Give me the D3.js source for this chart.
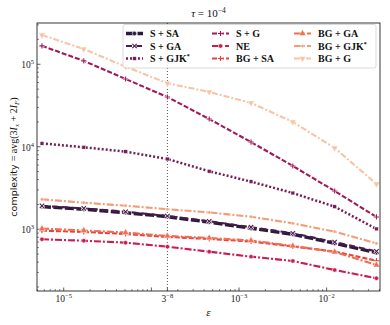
<!DOCTYPE html>
<html>
<head>
<meta charset="utf-8">
<script src="https://cdn.jsdelivr.net/npm/d3@7"></script>
<style>
  body { margin: 0; background: #fff; }
  svg { display: block; }
  .math { font-family: "Liberation Serif", "DejaVu Serif", serif; }
</style>
</head>
<body>
<div id="container"></div>
<script>
const margin = { top: 23, right: 10, bottom: 34, left: 37 };
const width = 390 - margin.left - margin.right;
const height = 325 - margin.top - margin.bottom;

// epsilon values (3^-11 ... 3^-3)
const eps = [5.645e-6, 1.694e-5, 5.081e-5, 1.524e-4, 4.572e-4, 1.372e-3, 4.115e-3, 1.235e-2, 3.704e-2];

const sSA    = [1880, 1750, 1590, 1420, 1220, 1030, 870, 676, 520];
const sGA    = [1920, 1790, 1630, 1450, 1250, 1060, 895, 700, 540];
const sGJK   = [11000, 9860, 8730, 7110, 5050, 3780, 2750, 1880, 1010];
const sG     = [167000, 110000, 66300, 40100, 21700, 11400, 5850, 2910, 1410];
const ne     = [756, 727, 688, 615, 535, 466, 413, 321, 255];
const bgSA   = [962, 928, 877, 807, 763, 711, 619, 538, 416];
const bgGA   = [1020, 967, 914, 830, 785, 731, 628, 531, 369];
const bgGJK  = [2310, 2100, 1930, 1750, 1600, 1420, 1180, 935, 676];
const bgG    = [226000, 153000, 93500, 58900, 46200, 34000, 20000, 9670, 3540];

const seriesNames = ["S + SA", "S + GA", "S + GJK*", "S + G", "NE", "BG + SA", "BG + GA", "BG + GJK*", "BG + G"];
const seriesValues = [sSA, sGA, sGJK, sG, ne, bgSA, bgGA, bgGJK, bgG];
const colors = ["#2b1a3f", "#4d1b48", "#761e57", "#a11959", "#cb1b4f", "#e8403f", "#f16f50", "#f59b76", "#f7c4a6"];
const dashes = ["9,2.5", "6,4", "2,2", "5,2", "7,2,2,2", "5,2", "7,2,2,2", "7,2,2,2", "6,2,2,2"];
const widths = [3.4, 2.1, 2.5, 2.1, 2.1, 2.1, 2.1, 2.1, 2.1];
const markers = ["circle", "x", "square", "plus", "circle", "plus", "up", "dot", "down"];

const xTickVals = [1e-5, 1.524e-4, 1e-3, 1e-2];
const xTickExp = ["−5", "−8", "−3", "−2"];
const xTickBase = ["10", "3", "10", "10"];
const yTickVals = [1e3, 1e4, 1e5];
const yTickExp = ["3", "4", "5"];

const svg = d3.select("#container").append("svg")
  .attr("width", 390)
  .attr("height", 325);

const g = svg.append("g")
  .attr("transform", `translate(${margin.left},${margin.top})`);

const x = d3.scaleLog()
  .domain([Math.pow(10, -5.305), Math.pow(10, -1.391)])
  .range([0, width]);
const y = d3.scaleLog()
  .domain([Math.pow(10, 2.252), Math.pow(10, 5.50)])
  .range([height, 0]);

// minor ticks
const xMinor = [];
for (let e = -6; e <= -1; e++) for (let m = 2; m <= 9; m++) {
  const v = m * Math.pow(10, e);
  if (v > x.domain()[0] && v < x.domain()[1]) xMinor.push(v);
}
const yMinor = [];
for (let e = 2; e <= 5; e++) for (let m = 2; m <= 9; m++) {
  const v = m * Math.pow(10, e);
  if (v > y.domain()[0] && v < y.domain()[1]) yMinor.push(v);
}

const tickColor = "#333";
g.selectAll(".xminor").data(xMinor).enter().append("line")
  .attr("x1", d => x(d)).attr("x2", d => x(d))
  .attr("y1", height).attr("y2", height - 2)
  .attr("stroke", tickColor).attr("stroke-width", 0.6);
g.selectAll(".xmajor").data([1e-5, 1e-4, 1e-3, 1e-2, 1.524e-4]).enter().append("line")
  .attr("x1", d => x(d)).attr("x2", d => x(d))
  .attr("y1", height).attr("y2", height - 3.5)
  .attr("stroke", tickColor).attr("stroke-width", 0.8);
g.selectAll(".yminor").data(yMinor).enter().append("line")
  .attr("x1", 0).attr("x2", 2)
  .attr("y1", d => y(d)).attr("y2", d => y(d))
  .attr("stroke", tickColor).attr("stroke-width", 0.6);
g.selectAll(".ymajor").data(yTickVals).enter().append("line")
  .attr("x1", 0).attr("x2", 3.5)
  .attr("y1", d => y(d)).attr("y2", d => y(d))
  .attr("stroke", tickColor).attr("stroke-width", 0.8);

// tick labels
const xl = g.selectAll(".xlab").data(xTickVals).enter().append("text")
  .attr("class", "math")
  .attr("x", d => x(d))
  .attr("y", height + 11)
  .attr("text-anchor", "middle")
  .style("font-size", "9.5px")
  .attr("fill", "#222");
xl.append("tspan").text((d, i) => xTickBase[i]);
xl.append("tspan").attr("dy", -4).style("font-size", "6.5px").text((d, i) => xTickExp[i]);

const yl = g.selectAll(".ylab").data(yTickVals).enter().append("text")
  .attr("class", "math")
  .attr("x", -3)
  .attr("y", d => y(d) + 4)
  .attr("text-anchor", "end")
  .style("font-size", "9.5px")
  .attr("fill", "#222");
yl.append("tspan").text("10");
yl.append("tspan").attr("dy", -4).style("font-size", "6.5px").text((d, i) => yTickExp[i]);

// vertical marker at 3^-8
g.append("line")
  .attr("x1", x(1.524e-4)).attr("x2", x(1.524e-4))
  .attr("y1", 0).attr("y2", height)
  .attr("stroke", "#555").attr("stroke-width", 1)
  .attr("stroke-dasharray", "1,2");

// lines
const line = d3.line()
  .x((d, i) => x(eps[i]))
  .y(d => y(d));

function drawMarker(sel, type, color, cx, cy) {
  const s = 2.2;
  if (type === "circle") {
    sel.append("circle").attr("cx", cx).attr("cy", cy).attr("r", s)
      .attr("fill", color).attr("stroke", "#fff").attr("stroke-width", 0.6);
  } else if (type === "dot") {
    sel.append("circle").attr("cx", cx).attr("cy", cy).attr("r", 1.6)
      .attr("fill", color).attr("stroke", "#fff").attr("stroke-width", 0.5);
  } else if (type === "square") {
    sel.append("rect").attr("x", cx - 1.9).attr("y", cy - 1.9).attr("width", 3.8).attr("height", 3.8)
      .attr("fill", color).attr("stroke", "#fff").attr("stroke-width", 0.5);
  } else if (type === "x" || type === "plus") {
    const p = type === "x"
      ? `M${cx - s},${cy - s}L${cx + s},${cy + s}M${cx - s},${cy + s}L${cx + s},${cy - s}`
      : `M${cx - s - 0.4},${cy}L${cx + s + 0.4},${cy}M${cx},${cy - s - 0.4}L${cx},${cy + s + 0.4}`;
    sel.append("path").attr("d", p).attr("stroke", "#fff").attr("stroke-width", 2.2).attr("fill", "none");
    sel.append("path").attr("d", p).attr("stroke", color).attr("stroke-width", 1.1).attr("fill", "none");
  } else if (type === "up" || type === "down") {
    const sym = d3.symbol().type(d3.symbolTriangle).size(20)();
    sel.append("path").attr("d", sym)
      .attr("transform", `translate(${cx},${cy}) rotate(${type === "down" ? 180 : 0})`)
      .attr("fill", color).attr("stroke", "#fff").attr("stroke-width", 0.5);
  }
}

const plot = g.append("g");
seriesValues.forEach((vals, k) => {
  plot.append("path")
    .datum(vals)
    .attr("d", line)
    .attr("fill", "none")
    .attr("stroke", colors[k])
    .attr("stroke-width", widths[k])
    .attr("stroke-dasharray", dashes[k]);
});
seriesValues.forEach((vals, k) => {
  const mg = plot.append("g");
  vals.forEach((v, i) => drawMarker(mg, markers[k], colors[k], x(eps[i]), y(v)));
});

// frame
g.append("rect")
  .attr("width", width).attr("height", height)
  .attr("fill", "none").attr("stroke", "#222").attr("stroke-width", 0.9);

// legend
const legend = svg.append("g");
legend.append("rect")
  .attr("x", 123).attr("y", 24.5).attr("width", 253).attr("height", 43.5).attr("rx", 2)
  .attr("fill", "#fff").attr("fill-opacity", 0.85)
  .attr("stroke", "#d0d0d0").attr("stroke-width", 0.8);
const colX = [126, 212, 294];
const rowY = [33.5, 46, 58.5];
seriesNames.forEach((name, k) => {
  const cx = colX[Math.floor(k / 3)];
  const cy = rowY[k % 3];
  legend.append("line")
    .attr("x1", cx).attr("x2", cx + 17)
    .attr("y1", cy).attr("y2", cy)
    .attr("stroke", colors[k]).attr("stroke-width", widths[k])
    .attr("stroke-dasharray", dashes[k]);
  drawMarker(legend, markers[k], colors[k], cx + 8.5, cy);
  const t = legend.append("text")
    .attr("class", "math")
    .attr("x", cx + 24)
    .attr("y", cy + 3.5)
    .style("font-size", "10px")
    .style("font-weight", "bold")
    .attr("fill", "#111");
  const star = name.endsWith("*");
  t.append("tspan").text(star ? name.slice(0, -1) : name);
  if (star) t.append("tspan").attr("dy", -4).style("font-size", "6px").text("*");
});

// title
const title = svg.append("text")
  .attr("class", "math")
  .attr("x", margin.left + width / 2)
  .attr("y", 17)
  .attr("text-anchor", "middle")
  .style("font-size", "11px")
  .attr("fill", "#111");
title.append("tspan").style("font-style", "italic").text("τ");
title.append("tspan").text(" = 10");
title.append("tspan").attr("dy", -4).style("font-size", "7.5px").text("−4");

// x label
svg.append("text")
  .attr("class", "math")
  .attr("x", margin.left + width / 2)
  .attr("y", 316)
  .attr("text-anchor", "middle")
  .style("font-size", "11px")
  .style("font-style", "italic")
  .attr("fill", "#111")
  .text("ε");

// y label
const ylab = svg.append("text")
  .attr("transform", `translate(17,${margin.top + height / 2}) rotate(-90)`)
  .attr("text-anchor", "middle")
  .style("font-size", "10px")
  .attr("fill", "#111");
ylab.append("tspan").style("font-family", "DejaVu Sans, sans-serif").style("font-size", "9.5px").text("complexity ");
const mathFont = "Liberation Serif, serif";
ylab.append("tspan").style("font-family", mathFont).text("= avg(3");
ylab.append("tspan").style("font-family", mathFont).style("font-style", "italic").text("I");
ylab.append("tspan").style("font-family", mathFont).style("font-style", "italic").style("font-size", "7px").attr("dy", 2).text("x");
ylab.append("tspan").style("font-family", mathFont).attr("dy", -2).text(" + 2");
ylab.append("tspan").style("font-family", mathFont).style("font-style", "italic").text("I");
ylab.append("tspan").style("font-family", mathFont).style("font-style", "italic").style("font-size", "7px").attr("dy", 2).text("F");
ylab.append("tspan").style("font-family", mathFont).attr("dy", -2).text(")");
</script>
</body>
</html>
